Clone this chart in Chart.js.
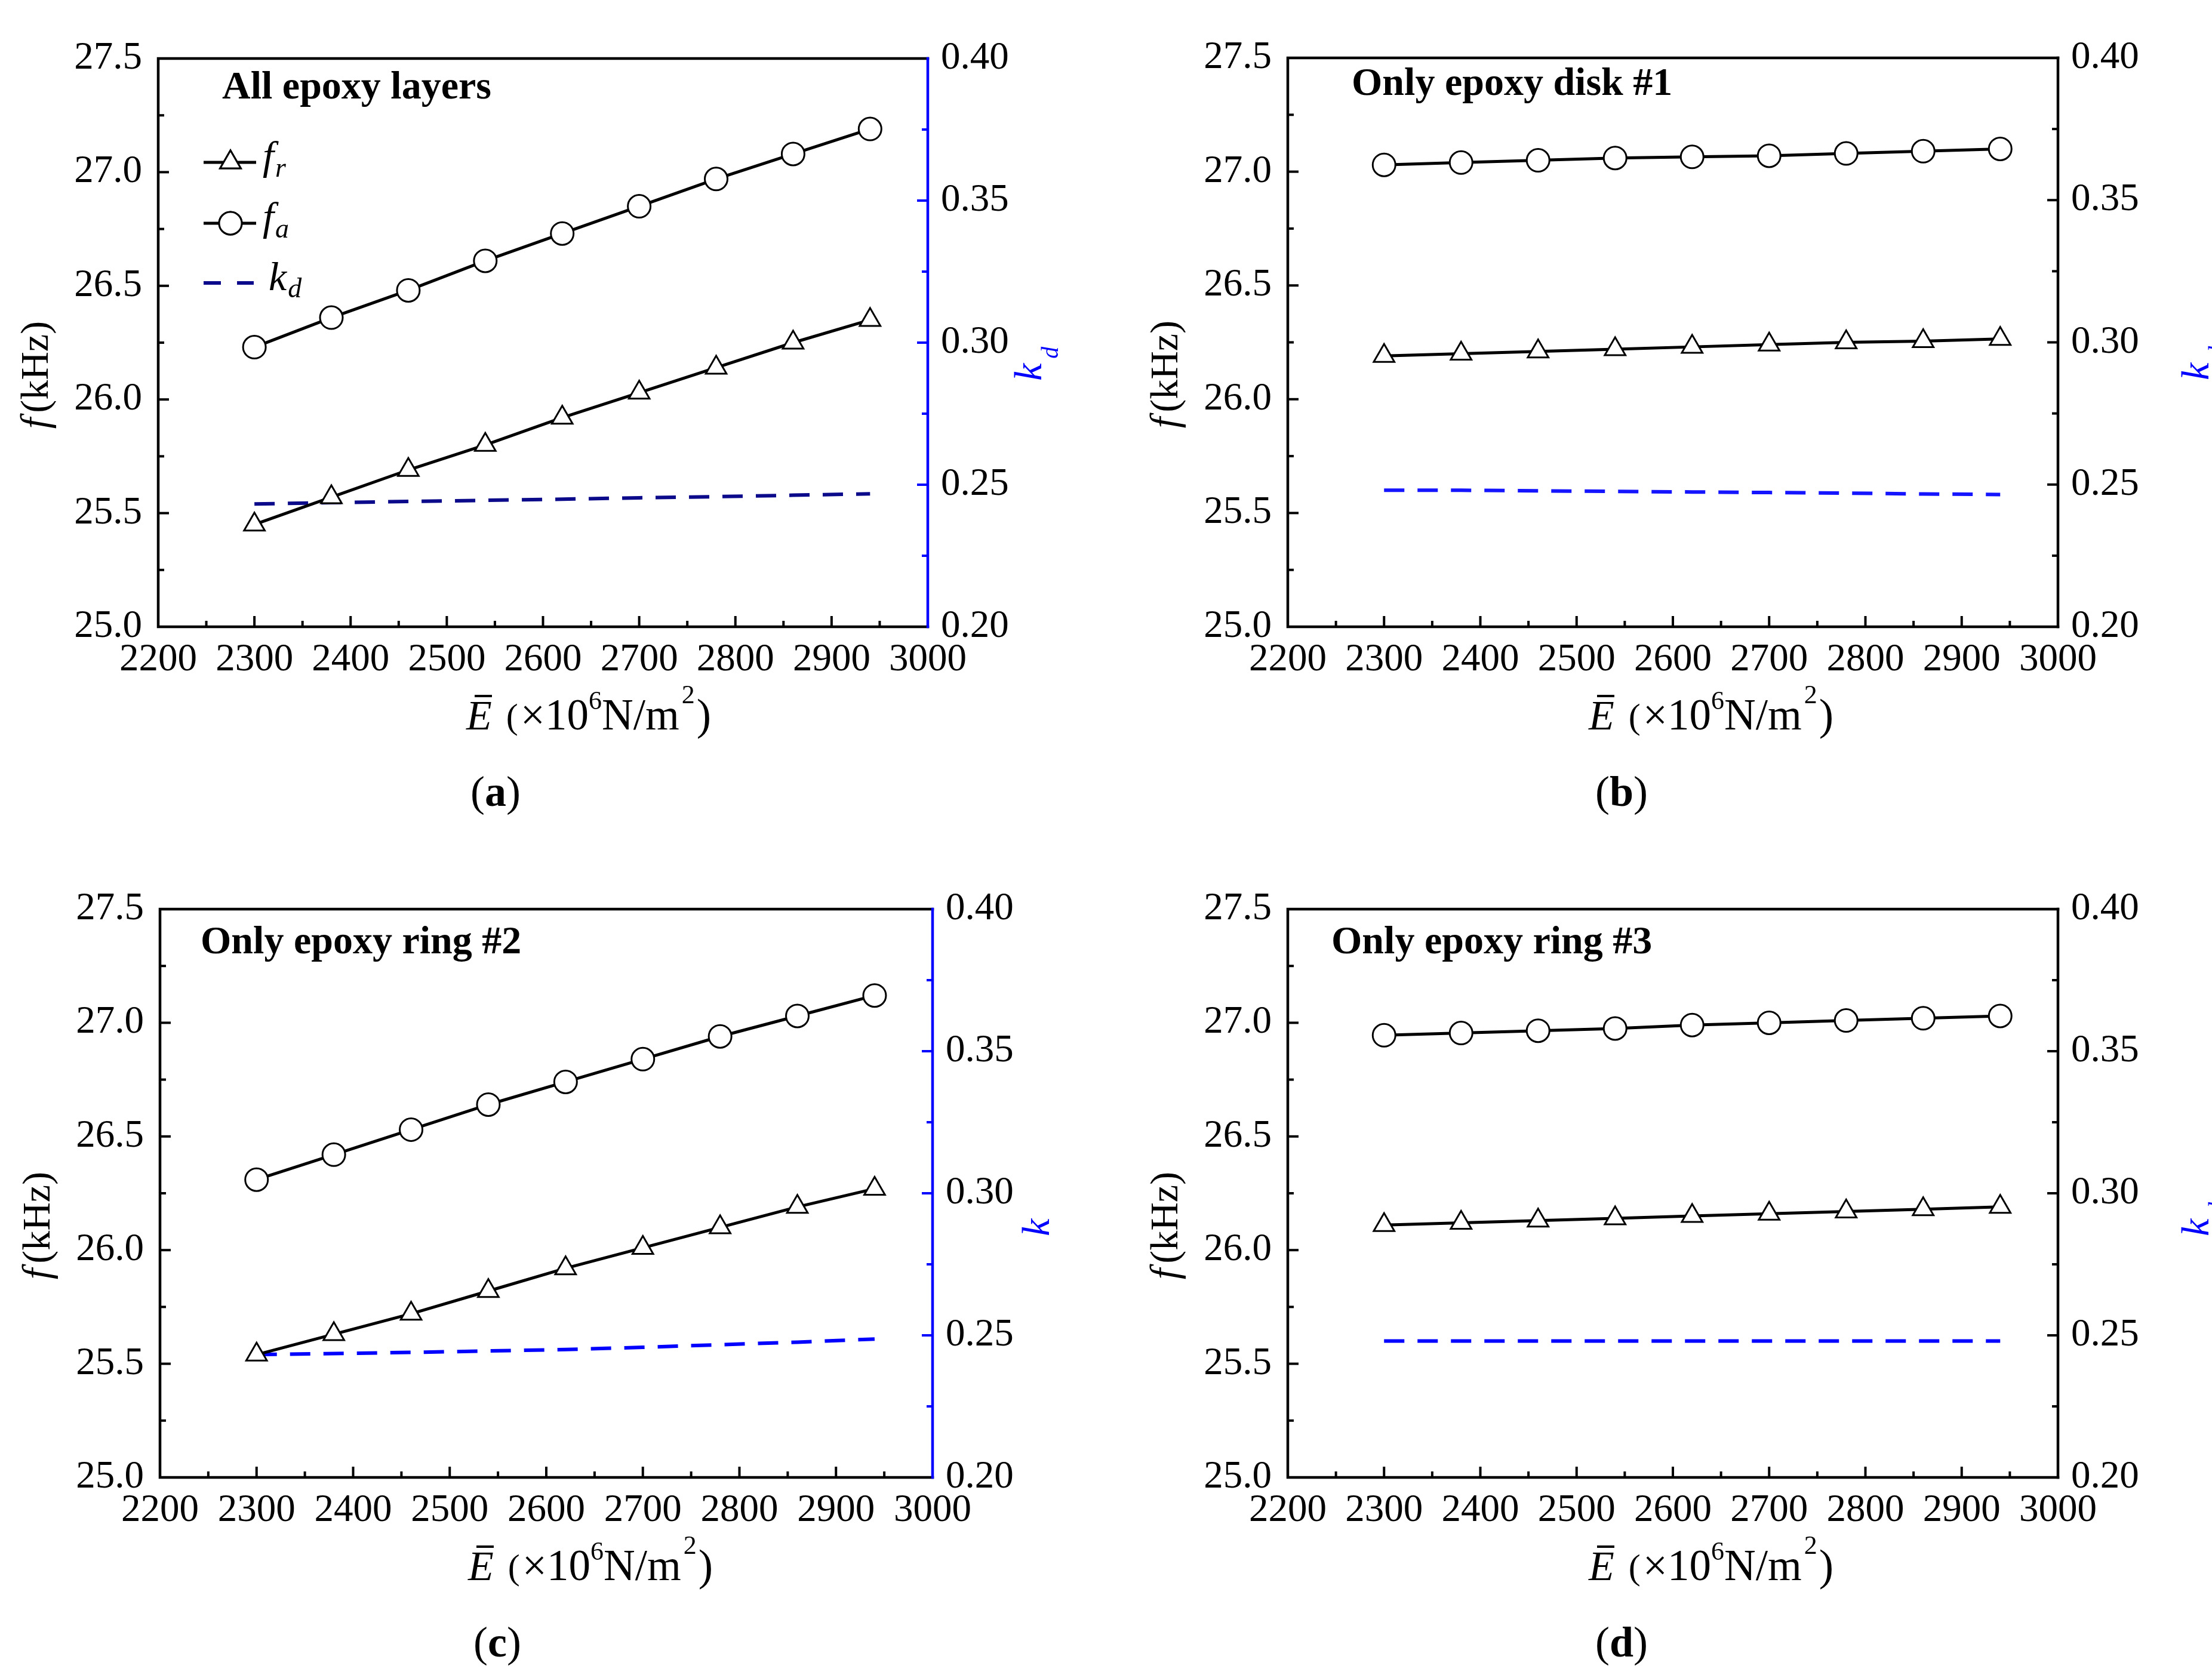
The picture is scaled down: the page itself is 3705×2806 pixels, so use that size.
<!DOCTYPE html>
<html>
<head>
<meta charset="utf-8">
<script src="https://cdn.jsdelivr.net/npm/chart.js@4.4.1/dist/chart.umd.min.js"></script>
<style>
    html, body { margin: 0; padding: 0; background: #fff; }
    body { width: 3705px; height: 2806px; position: relative; overflow: hidden; }
    .panel { position: absolute; }
</style>
</head>
<body>
<div class="panel" style="left:0px;top:0px"><canvas id="chart-a" width="1850" height="1400"></canvas></div>
<div class="panel" style="left:1850px;top:0px"><canvas id="chart-b" width="1855" height="1400"></canvas></div>
<div class="panel" style="left:0px;top:1425px"><canvas id="chart-c" width="1850" height="1381"></canvas></div>
<div class="panel" style="left:1850px;top:1425px"><canvas id="chart-d" width="1855" height="1381"></canvas></div>
<script>
// effective modulus of the epoxy (x10^6 N/m^2)
const modulus = [2300, 2380, 2460, 2540, 2620, 2700, 2780, 2860, 2940];

const xRange = [2200, 3000];
const fRange = [25.0, 27.5];
const kRange = [0.20, 0.40];

// (a) all epoxy layers
const frAll = [25.45, 25.57, 25.69, 25.80, 25.92, 26.03, 26.14, 26.25, 26.35];
const faAll = [26.23, 26.36, 26.48, 26.61, 26.73, 26.85, 26.97, 27.08, 27.19];
const kdAll = [0.2432, 0.2437, 0.2441, 0.2445, 0.2449, 0.2454, 0.2458, 0.2463, 0.2468];

// (b) only epoxy disk #1
const frDisk1 = [26.19, 26.20, 26.21, 26.22, 26.23, 26.24, 26.25, 26.255, 26.265];
const faDisk1 = [27.03, 27.04, 27.05, 27.06, 27.065, 27.07, 27.08, 27.09, 27.10];
const kdDisk1 = [0.248, 0.248, 0.2478, 0.2476, 0.2474, 0.2472, 0.247, 0.2467, 0.2465];

// (c) only epoxy ring #2
const frRing2 = [25.54, 25.63, 25.72, 25.82, 25.92, 26.01, 26.10, 26.19, 26.27];
const faRing2 = [26.31, 26.42, 26.53, 26.64, 26.74, 26.84, 26.94, 27.03, 27.12];
const kdRing2 = [0.2432, 0.2436, 0.244, 0.2445, 0.245, 0.2458, 0.2467, 0.2476, 0.2487];

// (d) only epoxy ring #3
const frRing3 = [26.11, 26.12, 26.13, 26.14, 26.15, 26.16, 26.17, 26.18, 26.19];
const faRing3 = [26.945, 26.955, 26.965, 26.975, 26.99, 27.00, 27.01, 27.02, 27.03];
const kdRing3 = [0.248, 0.248, 0.248, 0.248, 0.248, 0.248, 0.248, 0.248, 0.248];

const serif = "'Liberation Serif', 'Times New Roman', serif";
const font = (style, size) => style + ' ' + size + 'px ' + serif;

function drawRuns(ctx, x, y, runs, center) {
    let w = 0;
    runs.forEach(r => { ctx.font = r.font; r.w = ctx.measureText(r.t).width; w += r.w + (r.gap || 0); });
    let cx = center ? x - w / 2 : x;
    runs.forEach(r => {
        ctx.font = r.font;
        ctx.fillText(r.t, cx, y + (r.dy || 0));
        cx += r.w + (r.gap || 0);
    });
    return w;
}

const panelDecor = {
    id: 'panelDecor',
    afterDraw(chart, args, o) {
        const ctx = chart.ctx, a = chart.chartArea;
        const xs = chart.scales.x, yl = chart.scales.y, yr = chart.scales.y1;
        ctx.save();
        ctx.lineCap = 'butt';

        // inward tick marks, major + minor
        const tickSet = (scale) => {
            const v = scale.ticks.map(t => t.value), out = [];
            v.forEach((t, i) => {
                out.push([t, 18]);
                if (i < v.length - 1) out.push([(t + v[i + 1]) / 2, 10]);
            });
            return out;
        };
        ctx.lineWidth = 4;
        ctx.strokeStyle = '#000';
        tickSet(xs).forEach(([v, len]) => {
            const p = xs.getPixelForValue(v);
            ctx.beginPath(); ctx.moveTo(p, a.bottom); ctx.lineTo(p, a.bottom - len); ctx.stroke();
        });
        tickSet(yl).forEach(([v, len]) => {
            const p = yl.getPixelForValue(v);
            ctx.beginPath(); ctx.moveTo(a.left, p); ctx.lineTo(a.left + len, p); ctx.stroke();
        });
        ctx.strokeStyle = o.rightColor;
        tickSet(yr).forEach(([v, len]) => {
            const p = yr.getPixelForValue(v);
            ctx.beginPath(); ctx.moveTo(a.right, p); ctx.lineTo(a.right - len, p); ctx.stroke();
        });

        // frame
        ctx.lineWidth = 4.5;
        ctx.lineCap = 'square';
        ctx.strokeStyle = '#000';
        ctx.beginPath();
        ctx.moveTo(a.right, a.top); ctx.lineTo(a.left, a.top); ctx.lineTo(a.left, a.bottom); ctx.lineTo(a.right, a.bottom);
        ctx.stroke();
        ctx.strokeStyle = o.rightColor;
        ctx.beginPath(); ctx.moveTo(a.right, a.top); ctx.lineTo(a.right, a.bottom); ctx.stroke();

        ctx.fillStyle = '#000';
        ctx.textAlign = 'left';
        ctx.textBaseline = 'alphabetic';

        // panel heading
        ctx.font = font('bold', 66);
        ctx.fillText(o.title, a.left + o.titleAt[0], a.top + o.titleAt[1]);

        // legend (panel a only)
        if (o.legend) {
            const ds = chart.data.datasets;
            const rows = [
                { d: ds[0], y: 272, sym: 'f', sub: 'r' },
                { d: ds[1], y: 374, sym: 'f', sub: 'a' },
                { d: ds[2], y: 474, sym: 'k', sub: 'd' }
            ];
            rows.forEach(r => {
                const y = r.y;
                ctx.strokeStyle = r.d.borderColor;
                ctx.lineWidth = r.d.borderWidth;
                ctx.lineCap = 'butt';
                ctx.setLineDash(r.d.borderDash ? [29, 27] : []);
                ctx.beginPath(); ctx.moveTo(341, y); ctx.lineTo(r.d.borderDash ? 425 : 429, y); ctx.stroke();
                ctx.setLineDash([]);
                if (r.d.pointRadius > 0) {
                    ctx.fillStyle = '#fff';
                    ctx.strokeStyle = '#000';
                    ctx.lineWidth = r.d.pointBorderWidth;
                    Chart.helpers.drawPoint(ctx, { pointStyle: r.d.pointStyle, radius: r.d.pointRadius, borderWidth: r.d.pointBorderWidth }, 386, y);
                    ctx.fill(); ctx.stroke();
                }
                ctx.fillStyle = '#000';
                const tx = r.sym === 'k' ? 450 : 440;
                drawRuns(ctx, tx, y + 12, [
                    { t: r.sym, font: font('italic', 68), gap: 2 },
                    { t: r.sub, font: font('italic', 46), dy: 12 }
                ]);
            });
        }

        // left axis title
        ctx.fillStyle = '#000';
        ctx.save();
        ctx.translate(a.left + o.yTitleAt[0], a.top + o.yTitleAt[1]);
        ctx.rotate(-Math.PI / 2);
        drawRuns(ctx, 0, 0, [
            { t: 'f', font: font('italic', 66), gap: 8 },
            { t: '(kHz)', font: font('', 66) }
        ], true);
        ctx.restore();

        // right axis title
        ctx.fillStyle = '#0000ff';
        ctx.save();
        ctx.translate(a.right + o.kTitleAt[0], a.top + o.kTitleAt[1]);
        ctx.rotate(-Math.PI / 2);
        drawRuns(ctx, 0, 0, [
            { t: 'k', font: font('italic', 66), gap: 8 },
            { t: o.kSub, font: font('italic', 40), dy: 28 }
        ]);
        ctx.restore();

        // bottom axis title
        ctx.fillStyle = '#000';
        const bx = a.left + o.xTitleAt[0], by = a.bottom + o.xTitleAt[1];
        drawRuns(ctx, bx, by, [
            { t: 'E', font: font('italic', 70), gap: 24 },
            { t: '(', font: font('', 60), dy: -2, gap: 4 },
            { t: '×10', font: font('', 73) },
            { t: '6', font: font('', 44), dy: -34 },
            { t: 'N/m', font: font('', 73), gap: 4 },
            { t: '2', font: font('', 44), dy: -44, gap: 3 },
            { t: ')', font: font('', 73) }
        ]);
        ctx.strokeStyle = '#000';
        ctx.lineWidth = 4;
        ctx.lineCap = 'butt';
        ctx.beginPath(); ctx.moveTo(bx + 14, by - 56); ctx.lineTo(bx + 43, by - 56); ctx.stroke();

        // caption
        drawRuns(ctx, a.left + o.captionAt[0], a.bottom + o.captionAt[1], [
            { t: '(', font: font('', 72) },
            { t: o.caption, font: font('bold', 72) },
            { t: ')', font: font('', 72) }
        ], true);

        ctx.restore();
    }
};

const tickFont = { family: serif, size: 65 };

function makeChart(id, p) {
    const pts = arr => modulus.map((x, i) => ({ x: x, y: arr[i] }));
    return new Chart(document.getElementById(id), {
        type: 'line',
        data: {
            datasets: [
                {
                    label: 'fr', data: pts(p.fr), yAxisID: 'y',
                    borderColor: '#000', borderWidth: 5,
                    pointStyle: 'triangle', pointRadius: 20, pointBorderWidth: 3,
                    pointBackgroundColor: '#fff', pointBorderColor: '#000'
                },
                {
                    label: 'fa', data: pts(p.fa), yAxisID: 'y',
                    borderColor: '#000', borderWidth: 5,
                    pointStyle: 'circle', pointRadius: 19, pointBorderWidth: 3,
                    pointBackgroundColor: '#fff', pointBorderColor: '#000'
                },
                {
                    label: 'kd', data: pts(p.kd), yAxisID: 'y1',
                    borderColor: p.kdColor, borderWidth: 6, borderDash: [34, 22],
                    pointRadius: 0
                }
            ]
        },
        options: {
            responsive: false,
            animation: false,
            devicePixelRatio: 1,
            layout: { padding: { top: p.area[1], left: 0, right: 0, bottom: 0 } },
            plugins: {
                legend: { display: false },
                tooltip: { enabled: false },
                panelDecor: p
            },
            scales: {
                x: {
                    type: 'linear', min: xRange[0], max: xRange[1],
                    grid: { display: false, drawTicks: false }, border: { display: false },
                    ticks: { stepSize: 100, autoSkip: false, maxRotation: 0, padding: 17, color: '#000', font: tickFont, callback: v => String(v) },
                    afterFit: s => { s.height = p.height - p.area[3]; }
                },
                y: {
                    position: 'left', min: fRange[0], max: fRange[1],
                    grid: { display: false, drawTicks: false }, border: { display: false },
                    ticks: { stepSize: 0.5, padding: 27, color: '#000', font: tickFont, callback: v => v.toFixed(1) },
                    afterFit: s => { s.width = p.area[0]; }
                },
                y1: {
                    position: 'right', min: kRange[0], max: kRange[1],
                    grid: { display: false, drawTicks: false }, border: { display: false },
                    ticks: { stepSize: 0.05, padding: 22, color: '#000', font: tickFont, callback: v => v.toFixed(2) },
                    afterFit: s => { s.width = p.width - p.area[2]; }
                }
            }
        },
        plugins: [panelDecor]
    });
}

makeChart('chart-a', {
    width: 1850, height: 1400, area: [265, 98, 1554, 1050],
    fr: frAll, fa: faAll, kd: kdAll, kdColor: '#0a0a8a', rightColor: '#0000ff',
    title: 'All epoxy layers', titleAt: [107, 67], legend: true,
    yTitleAt: [-185, 530], kTitleAt: [190, 540], kSub: 'd',
    xTitleAt: [516, 172], caption: 'a', captionAt: [565, 300]
});
makeChart('chart-b', {
    width: 1855, height: 1400, area: [307, 97, 1597, 1050],
    fr: frDisk1, fa: faDisk1, kd: kdDisk1, kdColor: '#1414ff', rightColor: '#000',
    title: 'Only epoxy disk #1', titleAt: [107, 62], legend: false,
    yTitleAt: [-185, 530], kTitleAt: [252, 540], kSub: 'd',
    xTitleAt: [504, 172], caption: 'b', captionAt: [559, 300]
});
makeChart('chart-c', {
    width: 1850, height: 1381, area: [268, 98, 1562, 1050],
    fr: frRing2, fa: faRing2, kd: kdRing2, kdColor: '#0000ff', rightColor: '#0000ff',
    title: 'Only epoxy ring #2', titleAt: [68, 74], legend: false,
    yTitleAt: [-185, 530], kTitleAt: [195, 548], kSub: '',
    xTitleAt: [516, 172], caption: 'c', captionAt: [565, 300]
});
makeChart('chart-d', {
    width: 1855, height: 1381, area: [307, 98, 1597, 1050],
    fr: frRing3, fa: faRing3, kd: kdRing3, kdColor: '#0000ff', rightColor: '#000',
    title: 'Only epoxy ring #3', titleAt: [73, 74], legend: false,
    yTitleAt: [-185, 530], kTitleAt: [252, 548], kSub: 'd',
    xTitleAt: [504, 172], caption: 'd', captionAt: [559, 300]
});
</script>
</body>
</html>
